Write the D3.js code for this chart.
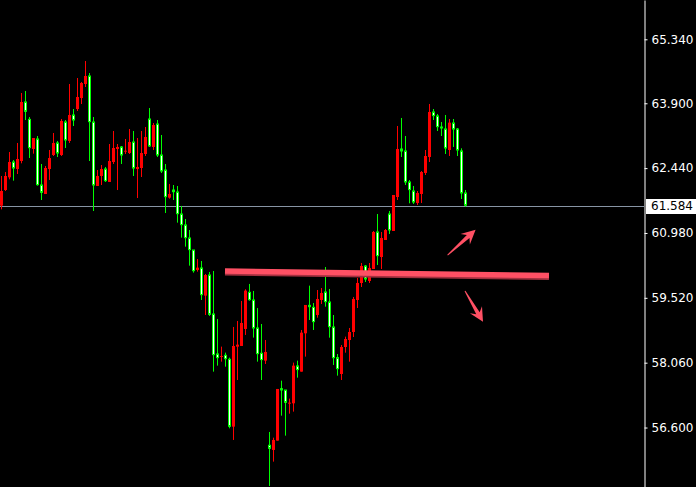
<!DOCTYPE html>
<html>
<head>
<meta charset="utf-8">
<script src="https://cdn.jsdelivr.net/npm/d3@7"></script>
<style>
  html, body { margin: 0; padding: 0; background: #000; }
  svg { display: block; }
</style>
</head>
<body>
<svg id="chart" width="696" height="487"></svg>
<script>
// candle values
const opens = [61.595,61.947,62.233,62.578,62.420,62.600,63.929,63.538,62.871,63.096,62.060,61.857,62.420,62.735,63.006,62.735,63.478,63.051,63.636,63.771,64.018,64.334,64.514,63.478,62.038,62.263,62.420,62.128,62.578,62.871,62.916,62.810,62.780,63.028,62.420,62.443,62.758,63.546,62.916,63.433,62.735,62.398,61.775,61.947,61.902,61.407,61.160,60.867,60.597,60.147,60.192,59.569,60.034,59.156,58.256,58.203,58.226,58.136,56.620,58.421,58.436,58.819,59.644,59.471,58.841,58.271,58.106,56.200,56.095,56.305,57.475,57.445,57.145,57.145,57.986,57.858,58.721,59.351,59.306,59.133,59.471,59.651,59.426,58.863,58.173,57.805,58.413,58.570,58.751,59.471,59.854,60.236,59.899,60.169,61.002,60.439,60.822,61.407,61.025,61.790,62.871,62.826,62.128,61.925,61.655,61.858,62.331,62.691,63.704,63.614,63.366,63.321,62.848,63.456,63.321,62.826,61.880]
const highs = [62.263,62.353,62.803,62.623,63.006,64.131,64.176,63.591,63.118,63.163,62.533,62.488,62.848,63.231,63.051,63.546,63.523,64.334,63.771,64.469,64.379,64.851,64.581,63.591,62.398,62.510,62.465,62.983,63.276,62.983,62.938,63.096,63.321,63.276,63.118,63.276,63.366,63.793,63.456,63.523,63.186,62.533,62.083,62.060,62.038,61.588,61.295,61.047,60.597,60.394,60.349,60.057,60.102,60.124,59.044,58.421,58.286,58.173,58.864,58.999,59.449,59.712,59.832,59.674,59.291,58.931,58.571,56.500,56.372,57.468,57.655,57.445,57.250,58.061,58.106,58.796,59.359,59.794,59.404,59.696,59.741,60.214,59.719,59.133,58.255,58.458,58.646,58.841,59.539,59.966,60.304,60.259,60.304,61.024,61.407,61.002,61.069,61.475,61.835,63.389,63.569,63.163,62.173,62.038,61.925,62.375,62.848,63.884,63.771,63.659,63.479,63.636,63.546,63.546,63.343,62.886,61.948]
const lows = [61.512,61.925,62.188,62.158,62.308,62.548,63.523,62.668,62.765,62.045,61.722,61.857,62.173,62.713,62.690,62.713,62.893,63.006,63.388,63.726,63.883,64.266,62.600,61.475,62.038,62.060,62.128,62.128,62.533,61.947,62.533,62.758,62.758,62.263,61.767,62.240,62.713,62.916,62.848,62.690,62.330,61.430,61.752,61.722,61.212,60.875,60.672,60.244,60.087,60.109,59.471,59.134,59.111,57.858,57.993,58.083,57.970,56.582,56.320,57.670,58.436,58.684,59.456,58.624,58.083,57.670,58.031,55.284,55.832,56.305,56.867,56.417,56.912,56.958,57.723,57.858,58.196,59.021,58.796,59.073,59.381,59.321,58.623,58.008,57.768,57.670,58.285,58.083,58.638,59.291,59.764,59.876,59.854,60.169,60.259,60.169,60.822,60.957,61.025,61.723,62.691,62.060,61.648,61.633,61.610,61.655,62.285,62.578,63.524,63.276,63.163,62.758,62.713,62.916,62.713,61.745,61.572]
const closes = [61.925,62.263,62.578,62.420,62.645,63.929,63.696,62.878,63.118,62.045,61.872,62.443,62.668,63.006,62.758,63.501,63.051,63.636,63.501,64.041,64.356,64.514,63.463,62.038,62.263,62.420,62.135,62.600,62.893,62.916,62.713,62.833,63.028,62.420,62.465,62.780,63.141,62.916,63.411,62.713,62.353,61.775,61.857,61.887,61.392,61.145,60.852,60.582,60.109,60.199,59.569,60.034,59.126,58.218,58.151,58.211,58.128,56.605,58.436,58.466,58.954,59.682,59.456,58.819,58.241,58.106,58.301,56.110,56.320,57.468,57.423,57.145,57.160,57.993,57.881,58.736,59.359,59.298,58.961,59.494,59.629,59.411,58.848,58.150,57.903,58.413,58.593,58.751,59.494,59.854,60.236,59.921,60.192,61.002,60.447,60.867,61.047,61.025,61.835,62.871,62.803,62.105,61.933,61.655,61.880,62.353,62.713,63.704,63.599,63.351,63.321,62.871,63.464,63.298,62.826,61.858,61.584]

const tickValues = [65.340, 63.900, 62.440, 60.980, 59.520, 58.060, 56.600]
const lastPrice = 61.584

// hand drawn marks, in bar index / price units
const trendLine = [[56.25, 60.124], [137.25, 60.020]]
const arrowUp = [[111.9, 60.484], [118.9, 61.050]]
const arrowDown = [[116.25, 59.674], [120.75, 58.980]]

const W = 696, H = 487, plotW = 644
const slots = 161

const svg = d3.select('#chart')
svg.append('rect').attr('width', W).attr('height', H).attr('fill', '#000')

const x = d3.scaleLinear().domain([0, slots]).range([0, plotW])
const y = d3.scaleLinear().domain([55.261, 66.225]).range([H, 0])

const bars = opens.map((o, i) => ({ i, o, h: highs[i], l: lows[i], c: closes[i] }))

const plot = svg.append('g')

// last price line
plot.append('line')
    .attr('x1', 0).attr('x2', plotW)
    .attr('y1', Math.round(y(lastPrice)) + 0.5).attr('y2', Math.round(y(lastPrice)) + 0.5)
    .attr('stroke', '#8794a4').attr('stroke-width', 1)

const candle = plot.selectAll('g.candle')
    .data(bars)
    .enter().append('g')
    .attr('class', 'candle')

candle.append('line')
    .attr('x1', d => x(d.i) + 1.5).attr('x2', d => x(d.i) + 1.5)
    .attr('y1', d => y(d.h)).attr('y2', d => y(d.l))
    .attr('stroke', d => d.c >= d.o ? '#ff0000' : '#00ff00')
    .attr('stroke-width', 1)

// up bars: solid red
candle.filter(d => d.c >= d.o).append('rect')
    .attr('x', d => x(d.i))
    .attr('width', 3)
    .attr('y', d => y(Math.max(d.o, d.c)))
    .attr('height', d => Math.max(1, y(Math.min(d.o, d.c)) - y(Math.max(d.o, d.c))))
    .attr('fill', '#ff0000')

// down bars: green outline, white inside
candle.filter(d => d.c < d.o).append('rect')
    .attr('x', d => x(d.i) + 0.5)
    .attr('width', 2)
    .attr('y', d => y(d.o))
    .attr('height', d => Math.max(1, y(d.c) - y(d.o) - 1))
    .attr('fill', '#ffffff')
    .attr('stroke', '#00ff00')
    .attr('stroke-width', 1)

// trend line with a darker edge under it
const px = p => [x(p[0]), y(p[1])]
const [t0, t1] = trendLine.map(px)
plot.append('line')
    .attr('x1', t0[0]).attr('y1', t0[1] + 2).attr('x2', t1[0]).attr('y2', t1[1] + 2)
    .attr('stroke', '#a3303f').attr('stroke-width', 5)
plot.append('line')
    .attr('x1', t0[0]).attr('y1', t0[1]).attr('x2', t1[0]).attr('y2', t1[1])
    .attr('stroke', '#ff5064').attr('stroke-width', 5.5)

const arrowPath = (a, b) => {
    const dx = b[0] - a[0], dy = b[1] - a[1]
    const len = Math.hypot(dx, dy)
    const ux = dx / len, uy = dy / len
    const nx = -uy, ny = ux
    const headL = 14, headW = 7, neck = 10, shaft = 2
    const at = (t, s) => [a[0] + ux * t + nx * s, a[1] + uy * t + ny * s]
    const pts = [
        at(0, 0.5), at(len - neck, shaft), at(len - headL, headW),
        at(len, 0),
        at(len - headL, -headW), at(len - neck, -shaft), at(0, -0.5)
    ]
    return 'M' + pts.map(p => p.join(',')).join('L') + 'Z'
}

;[arrowUp, arrowDown].forEach(arr => {
    const [a, b] = arr.map(px)
    plot.append('path')
        .attr('d', arrowPath(a, b))
        .attr('fill', '#ff5064')
})

// right price axis
const axis = d3.axisRight(y)
    .tickValues(tickValues)
    .tickFormat(d3.format('.3f'))
    .tickSize(3)
    .tickSizeOuter(0)
    .tickPadding(4)

const ag = svg.append('g')
    .attr('transform', `translate(${plotW + 0.5},0)`)
    .call(axis)
ag.select('.domain').attr('stroke', '#ffffff')
ag.selectAll('.tick line').attr('stroke', '#ffffff')
ag.selectAll('.tick text')
    .attr('fill', '#ffffff')
    .attr('font-family', 'DejaVu Sans, sans-serif')
    .attr('font-size', 12)

// last price tag
const ly = y(lastPrice)
svg.append('rect')
    .attr('x', plotW + 2).attr('y', Math.round(ly) - 7)
    .attr('width', W - plotW - 2).attr('height', 15)
    .attr('fill', '#ffffff')
svg.append('text')
    .attr('x', plotW + 7).attr('y', ly)
    .attr('dy', '0.36em')
    .attr('fill', '#000000')
    .attr('font-family', 'DejaVu Sans, sans-serif')
    .attr('font-size', 12)
    .text(d3.format('.3f')(lastPrice))
</script>
</body>
</html>
